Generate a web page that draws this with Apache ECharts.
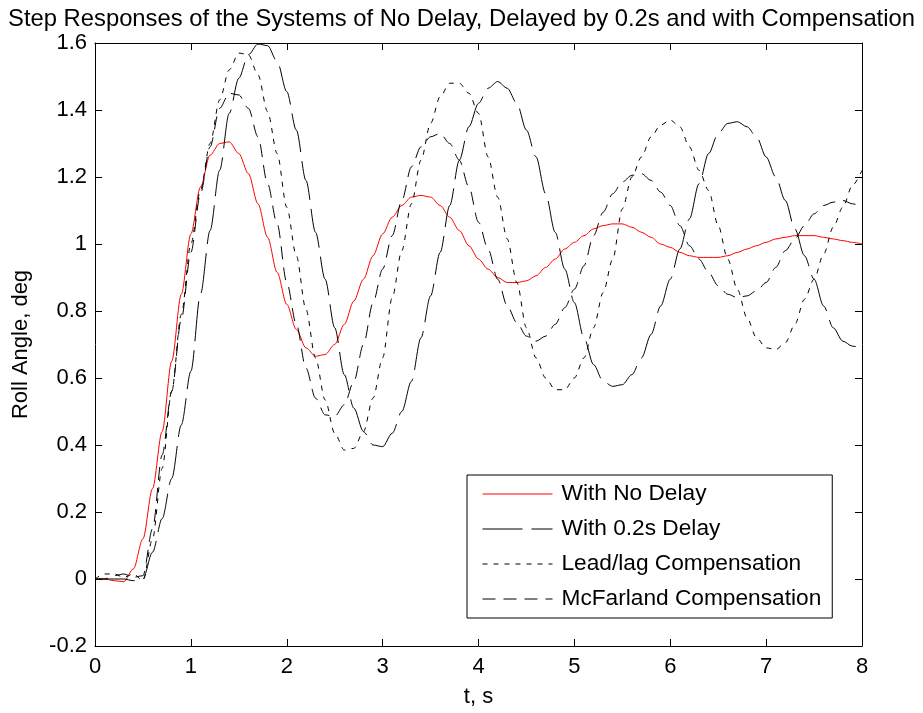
<!DOCTYPE html>
<html>
<head>
<meta charset="utf-8">
<title>Step Responses</title>
<script src="https://cdn.jsdelivr.net/npm/echarts@6/dist/echarts.min.js"></script>
<style>
  html, body { margin: 0; padding: 0; background: #fff; }
  #chart { width: 923px; height: 713px; }
</style>
</head>
<body>
<div id="chart"></div>
<script>
// Sample times (s), shared by every response
const time = [0,0.1,0.2,0.3,0.4,0.5,0.6,0.7,0.8,0.9,1.0,1.1,1.2,1.3,1.4,1.5,1.6,1.7,1.8,1.9,2.0,2.1,2.2,2.3,2.4,2.5,2.6,2.7,2.8,2.9,3.0,3.1,3.2,3.3,3.4,3.5,3.6,3.7,3.8,3.9,4.0,4.1,4.2,4.3,4.4,4.5,4.6,4.7,4.8,4.9,5.0,5.1,5.2,5.3,5.4,5.5,5.6,5.7,5.8,5.9,6.0,6.1,6.2,6.3,6.4,6.5,6.6,6.7,6.8,6.9,7.0,7.1,7.2,7.3,7.4,7.5,7.6,7.7,7.8,7.9,8.0];

// Roll angle (deg) for each case
const noDelay = [0,0,-0.005,-0.008,0.03,0.12,0.27,0.44,0.65,0.85,1.03,1.17,1.265,1.30,1.305,1.27,1.21,1.12,1.02,0.915,0.82,0.745,0.69,0.665,0.67,0.70,0.76,0.83,0.895,0.965,1.03,1.08,1.115,1.14,1.145,1.14,1.115,1.08,1.04,0.995,0.955,0.925,0.90,0.885,0.885,0.89,0.905,0.93,0.955,0.985,1.005,1.025,1.045,1.055,1.06,1.06,1.05,1.035,1.02,1.0,0.99,0.975,0.965,0.96,0.96,0.96,0.965,0.975,0.985,0.995,1.005,1.015,1.02,1.025,1.025,1.025,1.02,1.015,1.01,1.005,1.0];

const delayed = [0,0,0,0,-0.005,0,0.08,0.18,0.30,0.46,0.62,0.85,1.04,1.22,1.39,1.495,1.565,1.597,1.592,1.545,1.455,1.34,1.19,1.035,0.895,0.75,0.61,0.51,0.44,0.40,0.395,0.435,0.50,0.59,0.72,0.845,0.975,1.115,1.25,1.35,1.42,1.465,1.485,1.465,1.42,1.34,1.26,1.15,1.035,0.925,0.825,0.72,0.64,0.59,0.575,0.58,0.61,0.66,0.73,0.815,0.895,0.985,1.075,1.18,1.27,1.33,1.36,1.365,1.35,1.32,1.26,1.20,1.13,1.045,0.965,0.895,0.815,0.75,0.71,0.695,0.69];

const leadLag = [0,0.015,0.015,0.005,0.015,-0.005,0.12,0.33,0.56,0.79,1.0,1.16,1.30,1.43,1.52,1.57,1.565,1.505,1.395,1.27,1.11,0.965,0.805,0.66,0.535,0.435,0.385,0.39,0.44,0.54,0.66,0.84,0.98,1.12,1.25,1.36,1.44,1.48,1.48,1.45,1.39,1.26,1.14,1.015,0.885,0.75,0.66,0.60,0.565,0.565,0.60,0.66,0.75,0.855,0.955,1.105,1.20,1.26,1.32,1.355,1.37,1.35,1.29,1.22,1.16,1.055,0.955,0.865,0.78,0.72,0.69,0.685,0.705,0.76,0.835,0.895,0.97,1.05,1.11,1.175,1.22];

const mcFarland = [0,0,0.01,0.015,0.005,0.01,0.15,0.37,0.56,0.775,0.975,1.15,1.29,1.405,1.45,1.445,1.405,1.32,1.18,1.06,0.885,0.76,0.63,0.54,0.49,0.485,0.52,0.59,0.70,0.825,0.925,1.025,1.13,1.23,1.29,1.32,1.33,1.30,1.25,1.17,1.065,0.985,0.895,0.815,0.765,0.725,0.71,0.725,0.76,0.81,0.865,0.935,1.025,1.095,1.15,1.185,1.205,1.21,1.19,1.155,1.115,1.055,0.995,0.955,0.915,0.875,0.85,0.84,0.845,0.86,0.885,0.93,0.98,1.015,1.055,1.09,1.115,1.125,1.13,1.12,1.11];

const seriesNames = ['With No Delay', 'With 0.2s Delay', 'Lead/lag Compensation', 'McFarland Compensation'];

const FONT = '"Liberation Sans", Arial, Helvetica, sans-serif';

function pairs(values) {
  return time.map((t, i) => [t, values[i]]);
}

function lineSeries(name, values, color, dash) {
  return {
    name: name,
    type: 'line',
    data: pairs(values),
    xAxisIndex: 0,
    yAxisIndex: 0,
    showSymbol: false,
    symbol: 'none',
    smooth: 0.3,
    smoothMonotone: 'x',
    clip: true,
    lineStyle: { color: color, width: 1, type: dash },
    itemStyle: { color: color },
    emphasis: { disabled: true }
  };
}

const tickCommon = { show: true, inside: true, length: 7, lineStyle: { color: '#000', width: 1 } };
const lineCommon = { show: true, onZero: false, lineStyle: { color: '#000', width: 1 } };

const chart = echarts.init(document.getElementById('chart'), null, { renderer: 'canvas' });

chart.setOption({
  animation: false,
  backgroundColor: '#fff',
  textStyle: { fontFamily: FONT, color: '#000' },
  title: {
    text: 'Step Responses of the Systems of No Delay, Delayed by 0.2s and with Compensation',
    left: 'center',
    top: 2,
    textStyle: { fontFamily: FONT, fontSize: 23.8, fontWeight: 'normal', color: '#000' }
  },
  grid: { left: 95, right: 61, top: 43, bottom: 63, containLabel: false },
  xAxis: [
    {
      type: 'value', position: 'bottom', min: 0, max: 8, interval: 1,
      axisLine: lineCommon, axisTick: tickCommon, splitLine: { show: false },
      axisLabel: { color: '#000', fontFamily: FONT, fontSize: 22, margin: 10 },
      name: 't, s', nameLocation: 'middle', nameGap: 40,
      nameTextStyle: { color: '#000', fontFamily: FONT, fontSize: 22 }
    },
    {
      type: 'value', position: 'top', min: 0, max: 8, interval: 1,
      axisLine: lineCommon, axisTick: tickCommon, splitLine: { show: false },
      axisLabel: { show: false }
    }
  ],
  yAxis: [
    {
      type: 'value', position: 'left', min: -0.2, max: 1.6, interval: 0.2,
      axisLine: lineCommon, axisTick: tickCommon, splitLine: { show: false },
      axisLabel: { color: '#000', fontFamily: FONT, fontSize: 22, margin: 8 },
      name: 'Roll Angle, deg', nameLocation: 'middle', nameRotate: 90, nameGap: 63,
      nameTextStyle: { color: '#000', fontFamily: FONT, fontSize: 22 }
    },
    {
      type: 'value', position: 'right', min: -0.2, max: 1.6, interval: 0.2,
      axisLine: lineCommon, axisTick: tickCommon, splitLine: { show: false },
      axisLabel: { show: false }
    }
  ],
  legend: {
    orient: 'vertical',
    left: 467,
    top: 475,
    padding: [7, 11, 7, 15],
    itemGap: 11,
    itemWidth: 70,
    itemHeight: 14,
    backgroundColor: '#fff',
    borderColor: '#000',
    borderWidth: 1,
    borderRadius: 0,
    selectedMode: false,
    lineStyle: { width: 1 },
    itemStyle: { color: 'rgba(0,0,0,0)', borderWidth: 0, opacity: 0 },
    textStyle: { color: '#000', fontFamily: FONT, fontSize: 22.7, lineHeight: 24, padding: [0, 0, 0, 4] },
    data: seriesNames
  },
  series: [
    lineSeries(seriesNames[0], noDelay, '#ff0000', 'solid'),
    lineSeries(seriesNames[1], delayed, '#000000', [40, 9]),
    lineSeries(seriesNames[2], leadLag, '#000000', [5, 6]),
    lineSeries(seriesNames[3], mcFarland, '#000000', [13, 8])
  ]
});
</script>
</body>
</html>
